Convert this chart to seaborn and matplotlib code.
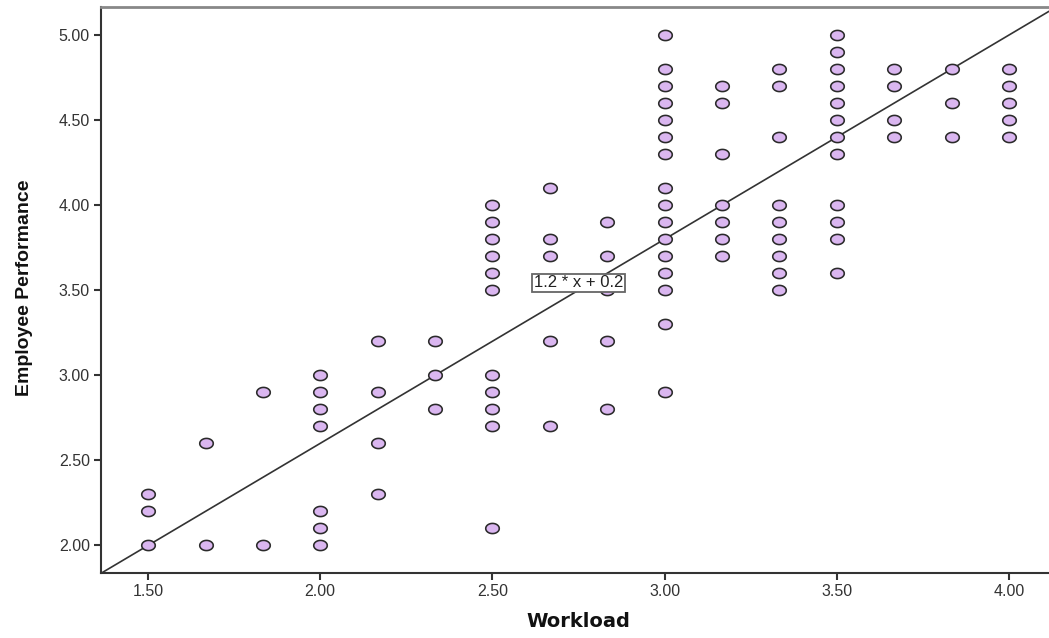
import numpy as np
import pandas as pd
import matplotlib
matplotlib.use("Agg")
import matplotlib.pyplot as plt
import seaborn as sns
from matplotlib.path import Path

# ---- data ----
x_levels = [1.50, 1.667, 1.833, 2.00, 2.167, 2.333, 2.50, 2.667, 2.833,
            3.00, 3.167, 3.333, 3.50, 3.667, 3.833, 4.00]
p150 = [2.3, 2.2, 2.0]
p167 = [2.6, 2.0]
p183 = [2.9, 2.0]
p200 = [3.0, 2.9, 2.8, 2.7, 2.2, 2.1, 2.0]
p217 = [3.2, 2.9, 2.6, 2.3]
p233 = [3.2, 3.0, 2.8]
p250 = [4.0, 3.9, 3.8, 3.7, 3.6, 3.5, 3.0, 2.9, 2.8, 2.7, 2.1]
p267 = [4.1, 3.8, 3.7, 3.2, 2.7]
p283 = [3.9, 3.7, 3.5, 3.2, 2.8]
p300 = [5.0, 4.8, 4.7, 4.6, 4.5, 4.4, 4.3, 4.1, 4.0, 3.9, 3.8, 3.7, 3.6, 3.5, 3.3, 2.9]
p317 = [4.7, 4.6, 4.3, 4.0, 3.9, 3.8, 3.7]
p333 = [4.8, 4.7, 4.4, 4.0, 3.9, 3.8, 3.7, 3.6, 3.5]
p350 = [5.0, 4.9, 4.8, 4.7, 4.6, 4.5, 4.4, 4.3, 4.0, 3.9, 3.8, 3.6]
p367 = [4.8, 4.7, 4.5, 4.4]
p383 = [4.8, 4.6, 4.4]
p400 = [4.8, 4.7, 4.6, 4.5, 4.4]
perf_groups = [p150, p167, p183, p200, p217, p233, p250, p267, p283,
               p300, p317, p333, p350, p367, p383, p400]

fit_slope = 1.2
fit_intercept = 0.2
fit_label = "1.2 * x + 0.2"

x_ticks = [1.5, 2.0, 2.5, 3.0, 3.5, 4.0]
y_ticks = [2.0, 2.5, 3.0, 3.5, 4.0, 4.5, 5.0]

rows = [(xv, yv) for xv, grp in zip(x_levels, perf_groups) for yv in grp]
df = pd.DataFrame(rows, columns=["Workload", "Employee Performance"])

# ---- figure ----
sns.set_theme(style="white")
plt.rcParams["font.family"] = ["Liberation Sans", "DejaVu Sans"]

fig = plt.figure(figsize=(10.49, 6.38), dpi=100)
ax = fig.add_axes([101 / 1049, 65 / 638, 948 / 1049, 566 / 638])

xlim = (1.3635, 4.116)
ylim = (1.838, 5.1645)

# ellipse marker
t = np.linspace(0, 2 * np.pi, 60)
ell = Path(np.column_stack([1.33 * np.cos(t), np.sin(t)]))

sns.scatterplot(data=df, x="Workload", y="Employee Performance", ax=ax,
                marker=ell, s=95, color="#dab6f0", edgecolor="#2a2a2a",
                linewidth=1.15, zorder=3)

fx = np.array(xlim)
sns.lineplot(x=fx, y=fit_slope * fx + fit_intercept, ax=ax,
             color="#333333", linewidth=1.2, zorder=2)

ax.text(2.75, 3.543, fit_label, ha="center", va="center", fontsize=12,
        color="#222222", zorder=5,
        bbox=dict(boxstyle="square,pad=0.1", fc="white", ec="#666666", lw=1.3))

ax.set_xlim(*xlim)
ax.set_ylim(*ylim)
ax.set_xticks(x_ticks)
ax.set_yticks(y_ticks)
ax.set_xticklabels([f"{v:.2f}" for v in x_ticks])
ax.set_yticklabels([f"{v:.2f}" for v in y_ticks])
ax.tick_params(axis="both", direction="out", length=5, width=1.5,
               color="#333333", labelcolor="#333333", labelsize=11.5, pad=3,
               bottom=True, left=True)

for side in ["left", "bottom"]:
    ax.spines[side].set_color("#333333")
    ax.spines[side].set_linewidth(1.5)
ax.spines["top"].set_color("#888888")
ax.spines["top"].set_linewidth(2)
ax.spines["right"].set_visible(False)

ax.set_xlabel("Workload", fontsize=14, fontweight="bold", color="#111111",
              family=["DejaVu Sans"])
ax.set_ylabel("Employee Performance", fontsize=14, fontweight="bold",
              color="#111111")
ax.xaxis.set_label_coords((578 - 101) / 948, (573 - 612) / 566)
ax.yaxis.set_label_coords((33 - 101) / 948, (573 - 288) / 566)

fig.savefig("out.png", dpi=100, facecolor="white")
